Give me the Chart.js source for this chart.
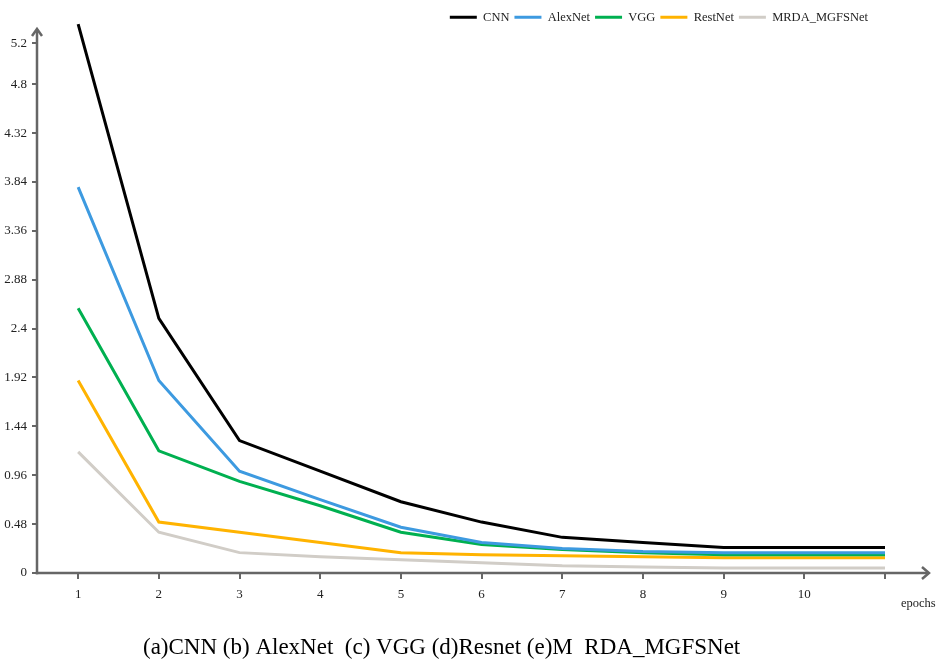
<!DOCTYPE html>
<html>
<head>
<meta charset="utf-8">
<script src="https://cdn.jsdelivr.net/npm/chart.js@4/dist/chart.umd.min.js"></script>
<style>
html,body{margin:0;padding:0;background:#fff;}
#wrap{width:944px;height:664px;position:relative;}
</style>
</head>
<body>
<div id="wrap"><canvas id="c" width="944" height="664"></canvas></div>
<script>
// ---- data ----
const epochs = [1, 2, 3, 4, 5, 6, 7, 8, 9, 10, 11];
const xTickLabels = ['1', '2', '3', '4', '5', '6', '7', '8', '9', '10', ''];
const yTicks = [0, 0.48, 0.96, 1.44, 1.92, 2.4, 2.88, 3.36, 3.84, 4.32, 4.8, 5.2];
const yTickLabels = ['0', '0.48', '0.96', '1.44', '1.92', '2.4', '2.88', '3.36', '3.84', '4.32', '4.8', '5.2'];
const seriesNames = ['CNN', 'AlexNet', 'VGG', 'RestNet', 'MRDA_MGFSNet'];
const cnn     = [5.39, 2.50, 1.30, 1.00, 0.70, 0.50, 0.35, 0.30, 0.25, 0.25, 0.25];
const alexnet = [3.79, 1.89, 1.00, 0.72, 0.45, 0.30, 0.24, 0.21, 0.20, 0.20, 0.20];
const vgg     = [2.60, 1.20, 0.90, 0.66, 0.40, 0.28, 0.23, 0.20, 0.18, 0.18, 0.18];
const restnet = [1.89, 0.50, 0.40, 0.30, 0.20, 0.18, 0.17, 0.16, 0.15, 0.15, 0.15];
const mrda    = [1.19, 0.40, 0.20, 0.16, 0.13, 0.10, 0.07, 0.06, 0.05, 0.05, 0.05];
const xTitle = 'epochs';
const caption = '(a)CNN (b) AlexNet  (c) VGG (d)Resnet (e)M  RDA_MGFSNet';

// ---- style ----
const colors = ['#000000', '#3d9ae0', '#00b050', '#ffb300', '#d1cdc7'];
const FONT = "'Liberation Serif', 'Times New Roman', serif";
const AXIS_COLOR = '#666666';
const TEXT_COLOR = '#222222';

Chart.defaults.font.family = FONT;
Chart.defaults.color = TEXT_COLOR;

const seriesValues = [cnn, alexnet, vgg, restnet, mrda];
const datasets = seriesNames.map((name, i) => ({
  label: name,
  data: epochs.map((e, j) => ({x: e, y: seriesValues[i][j]})),
  borderColor: colors[i],
  backgroundColor: colors[i],
  borderWidth: 3,
  pointRadius: 0,
  tension: 0,
  fill: false,
  clip: false
}));

const axisPlugin = {
  id: 'axisPlugin',
  afterLayout(chart) {
    const lg = chart.legend;
    if (lg) {
      lg.right = 873;
      lg.left = 300;
      lg.width = lg.right - lg.left;
      lg.top = 6;
      lg.bottom = lg.top + 30;
      lg.height = 30;
    }
  },
  beforeDatasetsDraw(chart) {
    const ctx = chart.ctx;
    const a = chart.chartArea;
    ctx.save();
    ctx.strokeStyle = AXIS_COLOR;
    ctx.lineWidth = 2.5;
    ctx.lineCap = 'butt';
    ctx.lineJoin = 'miter';
    // y axis
    const yTip = a.top + 12;
    ctx.beginPath();
    ctx.moveTo(a.left, a.bottom + 1.25);
    ctx.lineTo(a.left, yTip + 1);
    ctx.stroke();
    ctx.beginPath();
    ctx.moveTo(a.left - 5, yTip + 7);
    ctx.lineTo(a.left, yTip);
    ctx.lineTo(a.left + 5, yTip + 7);
    ctx.stroke();
    // x axis
    const xTip = 929;
    ctx.beginPath();
    ctx.moveTo(a.left - 1.25, a.bottom);
    ctx.lineTo(xTip - 1, a.bottom);
    ctx.stroke();
    ctx.beginPath();
    ctx.moveTo(xTip - 7, a.bottom - 6);
    ctx.lineTo(xTip, a.bottom);
    ctx.lineTo(xTip - 7, a.bottom + 6);
    ctx.stroke();
    ctx.restore();
  },
  afterDraw(chart) {
    const ctx = chart.ctx;
    ctx.save();
    ctx.fillStyle = TEXT_COLOR;
    ctx.textBaseline = 'middle';
    ctx.textAlign = 'left';
    ctx.font = "12.5px " + FONT;
    ctx.fillText(xTitle, 901, 604);
    ctx.fillStyle = '#000';
    ctx.textBaseline = 'alphabetic';
    ctx.font = "23px " + FONT;
    ctx.fillText(caption, 143, 654);
    ctx.restore();
  }
};

new Chart(document.getElementById('c'), {
  type: 'line',
  data: {datasets},
  plugins: [axisPlugin],
  options: {
    responsive: false,
    animation: false,
    events: [],
    layout: {padding: {left: 0, right: 59, top: 17, bottom: 0}},
    plugins: {
      legend: {
        position: 'top',
        align: 'end',
        maxHeight: 0.01,
        labels: {
          usePointStyle: true,
          pointStyle: 'line',
          pointStyleWidth: 27,
          boxHeight: 12,
          padding: 5,
          color: TEXT_COLOR,
          font: {size: 12.5, family: FONT}
        }
      },
      tooltip: {enabled: false},
      title: {display: false}
    },
    scales: {
      x: {
        type: 'linear',
        min: 0.49,
        max: 11,
        afterBuildTicks(scale) { scale.ticks = epochs.map(v => ({value: v})); },
        afterFit(scale) { scale.height = 91; },
        border: {display: false},
        grid: {display: true, drawOnChartArea: false, drawTicks: true, tickLength: 6, color: AXIS_COLOR, lineWidth: 2},
        ticks: {
          autoSkip: false,
          maxRotation: 0,
          padding: 8,
          color: TEXT_COLOR,
          font: {size: 13, family: FONT},
          callback: (v, i) => xTickLabels[i]
        }
      },
      y: {
        type: 'linear',
        min: 0,
        max: 5.46,
        afterBuildTicks(scale) { scale.ticks = yTicks.map(v => ({value: v})); },
        afterFit(scale) { scale.width = 37; },
        border: {display: false},
        grid: {display: true, drawOnChartArea: false, drawTicks: true, tickLength: 5, color: AXIS_COLOR, lineWidth: 2},
        ticks: {
          autoSkip: false,
          padding: 5,
          color: TEXT_COLOR,
          font: {size: 13, family: FONT},
          callback: (v, i) => yTickLabels[i]
        }
      }
    }
  }
});
</script>
</body>
</html>
